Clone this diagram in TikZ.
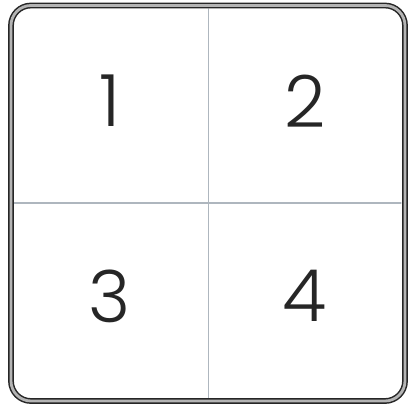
\documentclass[tikz,border=0pt]{standalone}
\usepackage{fontspec}
\setmainfont{Poppins}[UprightFont=* Light]
\definecolor{framegray}{HTML}{B4B4B4}
\definecolor{divgray}{HTML}{AEB6BE}
\begin{document}
\begin{tikzpicture}[x=1pt, y=-1pt, line cap=round]
  \useasboundingbox (0, 0) rectangle (413, 406);
  \tikzset{
    digit/.style={inner sep=0pt, font=\fontsize{72}{72}\selectfont, text=black!85},
    divider/.style={draw=divgray, line width=1.2pt},
  }
  % Corners of the frame (middle of the double line).
  \coordinate (TL) at (11, 5.5);
  \coordinate (BR) at (405, 401);
  % Ends of the dividers.
  \coordinate (T) at (208.5, 9);
  \coordinate (B) at (208.5, 398);
  \coordinate (L) at (14, 203);
  \coordinate (R) at (401, 203);
  % Dividers.
  \draw[divider] (T) -- (B);
  \draw[divider] (L) -- (R);
  % Frame.
  \draw[line width=1.5pt, draw=black!85, double=framegray, double distance=2.8pt,
        rounded corners=20pt] (TL) rectangle (BR);
  % Numbers.
  \node[digit] (one)   at (110, 101) {1};
  \node[digit] (two)   at (305, 101) {2};
  \node[digit] (three) at (110, 296) {3};
  \node[digit] (four)  at (305, 296) {4};
\end{tikzpicture}
\end{document}
